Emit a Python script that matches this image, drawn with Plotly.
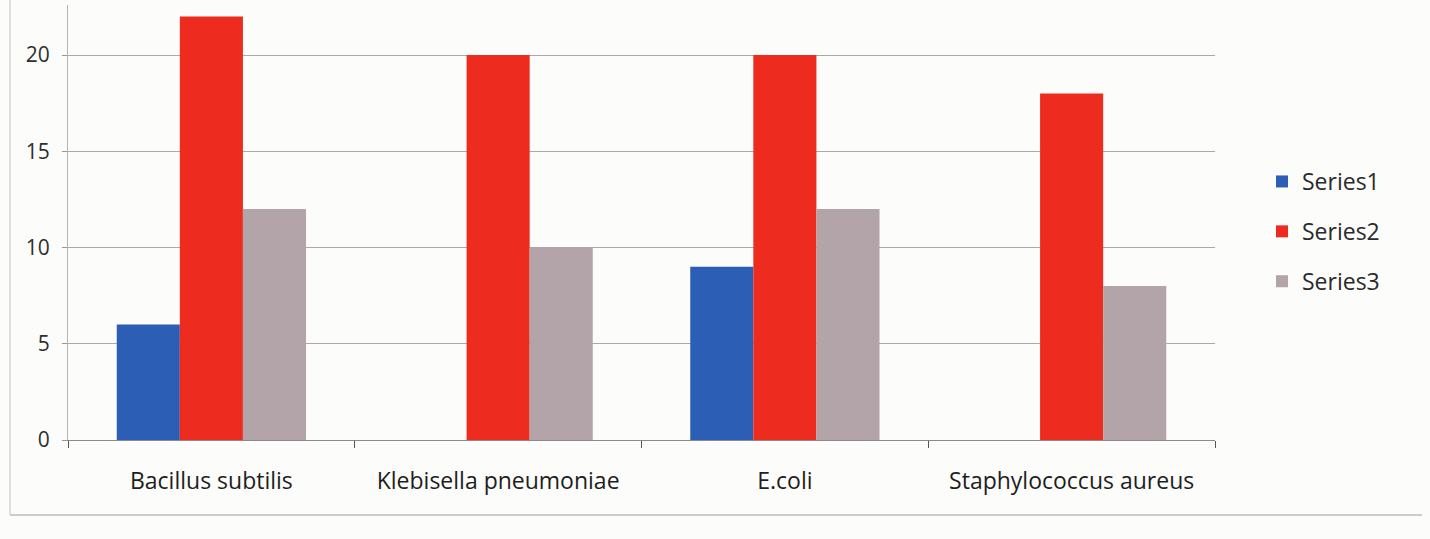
import plotly.graph_objects as go

# Zone-of-inhibition style readings per organism
organisms = ["Bacillus subtilis", "Klebisella pneumoniae", "E.coli", "Staphylococcus aureus"]
series1 = [6, 0, 9, 0]
series2 = [22, 20, 20, 18]
series3 = [12, 10, 12, 8]
y_ticks = [0, 5, 10, 15, 20]

colors = {"Series1": "#2b5eb4", "Series2": "#ee2b1f", "Series3": "#b2a4a8"}

fig = go.Figure()
for name, vals in [("Series1", series1), ("Series2", series2), ("Series3", series3)]:
    fig.add_trace(go.Bar(
        name=name, x=organisms, y=vals,
        marker=dict(color=colors[name], line=dict(width=0)),
        legendgroup=name,
    ))

W, H = 1430, 539
left, right, top, bottom = 68, 215, 5, 99
pw, ph = W - left - right, H - top - bottom

fig.update_layout(
    width=W, height=H,
    margin=dict(l=left, r=right, t=top, b=bottom, pad=0),
    paper_bgcolor="#fcfcfb",
    plot_bgcolor="#fcfcfb",
    barmode="group",
    bargap=0.34,
    bargroupgap=0,
    font=dict(family="Open Sans, Liberation Sans, sans-serif", color="#2a2a2a"),
    showlegend=True,
    legend=dict(
        x=(1262 - left) / pw,
        xanchor="left",
        y=(H - bottom - 160) / ph,
        yanchor="top",
        font=dict(size=23, color="#2a2a2a"),
        tracegroupgap=17,
        bgcolor="rgba(0,0,0,0)",
        itemwidth=30,
    ),
    xaxis=dict(
        showgrid=False,
        showline=True, linecolor="#8a8a8a", linewidth=1.2,
        ticks="outside", tickson="boundaries", ticklen=7, tickcolor="#555",
        tickfont=dict(size=23, color="#1e1e1e"),
        ticklabelstandoff=20,
    ),
    yaxis=dict(
        range=[0, 22.6],
        tickvals=y_ticks,
        showgrid=True, gridcolor="#a9a9a9", gridwidth=1,
        zeroline=False,
        showline=True, linecolor="#b5b5b5", linewidth=1,
        ticks="outside", ticklen=5, tickcolor="#999",
        tickfont=dict(size=21, color="#2e2e2e"),
        ticklabelstandoff=8,
    ),
    shapes=[
        dict(type="line", xref="paper", yref="paper",
             x0=-(left - 10) / pw, x1=(W - left - 8) / pw,
             y0=-(515 - (H - bottom)) / ph, y1=-(515 - (H - bottom)) / ph,
             line=dict(color="#9a9a9a", width=1.2)),
        dict(type="line", xref="paper", yref="paper",
             x0=-(left - 10) / pw, x1=-(left - 10) / pw,
             y0=-(515 - (H - bottom)) / ph, y1=1.05,
             line=dict(color="#c4c4c4", width=1)),
    ],
)

fig.write_html("out.html")
